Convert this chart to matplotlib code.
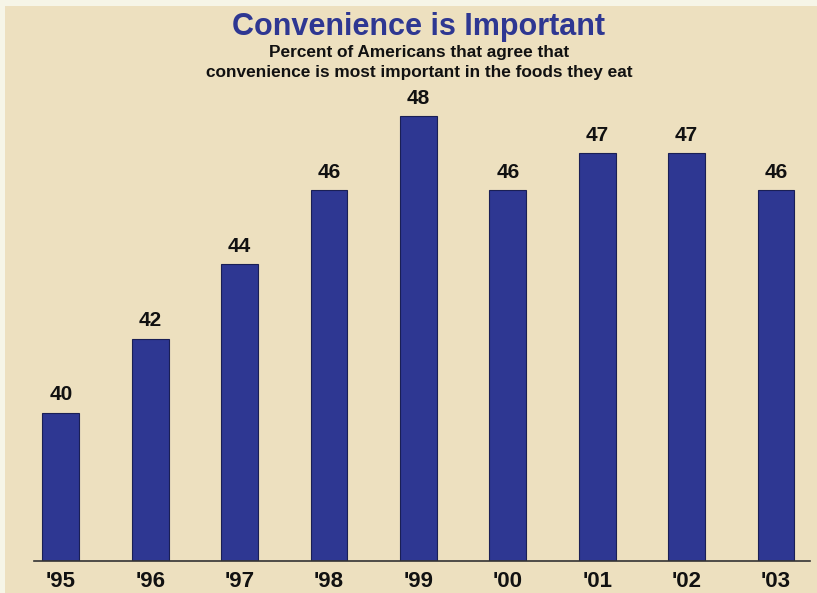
import matplotlib
matplotlib.use("Agg")
import matplotlib.pyplot as plt
from matplotlib.patches import Rectangle

years = ["'95", "'96", "'97", "'98", "'99", "'00", "'01", "'02", "'03"]
percent = [40, 42, 44, 46, 48, 46, 47, 47, 46]

W, H = 817, 593
fig = plt.figure(figsize=(W / 100, H / 100), dpi=100)
fig.patch.set_facecolor("#F6F5E7")
bg = Rectangle((5 / W, 0), 1, 1 - 6 / H, transform=fig.transFigure,
               facecolor="#EDE0BF", edgecolor="none", zorder=-10)
fig.add_artist(bg)

ax = fig.add_axes([34 / W, 32 / H, (810 - 34) / W, (561 - 6) / H])
ax.set_zorder(1)
ax.set_facecolor("none")
x = list(range(len(years)))
ax.bar(x, percent, width=0.41, color="#2E3792", edgecolor="#1A1F55", linewidth=0.8, zorder=2)
ax.set_xlim(-0.30, len(years) - 1 + 0.38)
ax.set_ylim(36, 36 + (561 - 6) / 37.08)

for xi, v in zip(x, percent):
    ax.annotate(str(v), (xi, v), xytext=(0, 6), textcoords="offset points",
                ha="center", va="bottom", fontsize=15, fontweight="bold",
                family="Liberation Sans", color="#111111")

for s in ["top", "right", "left"]:
    ax.spines[s].set_visible(False)
ax.spines["bottom"].set_color("#333333")
ax.spines["bottom"].set_linewidth(1.2)
ax.set_yticks([])
ax.set_xticks(x)
ax.set_xticklabels(years, fontsize=16, fontweight="bold", family="Liberation Sans", color="#111111")
ax.tick_params(axis="x", length=0, pad=7)

fig.text(419 / W, 1 - 27 / H, "Convenience is Important", ha="center", va="center",
         fontsize=22, fontweight="bold", family="Liberation Sans", color="#2E3792")
fig.text(419 / W, 1 - 53 / H, "Percent of Americans that agree that", ha="center", va="center",
         fontsize=12.4, fontweight="bold", family="Liberation Sans", color="#111111")
fig.text(419 / W, 1 - 73 / H, "convenience is most important in the foods they eat", ha="center",
         va="center", fontsize=12.4, fontweight="bold", family="Liberation Sans", color="#111111")

fig.savefig("out.png", dpi=100, facecolor=fig.get_facecolor())
